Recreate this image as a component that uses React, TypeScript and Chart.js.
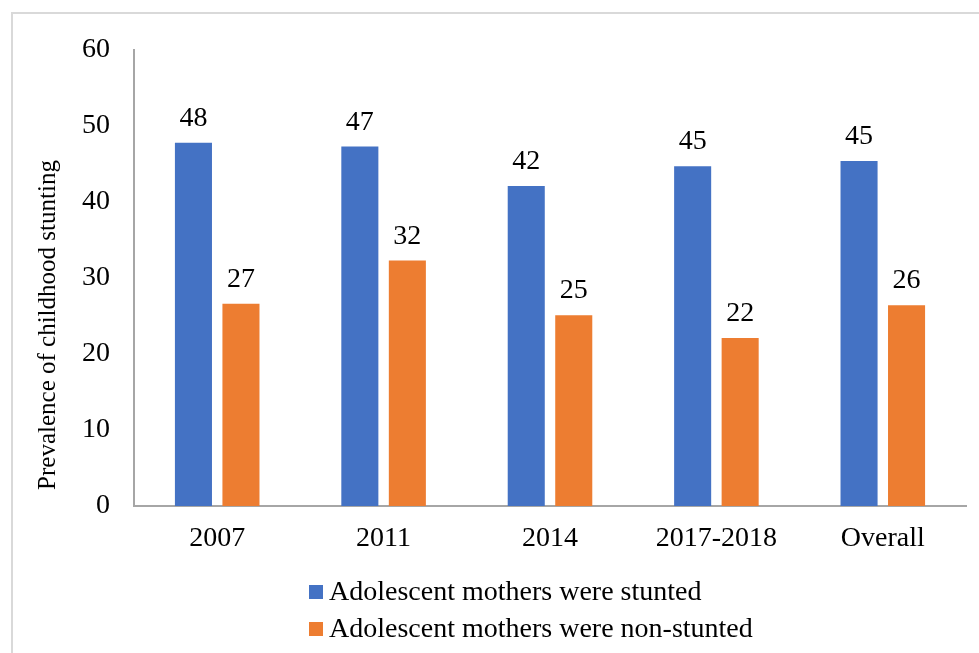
import React, { useEffect, useRef } from "react";
import { Chart, registerables } from "chart.js";

Chart.register(...registerables);

const categories = ["2007", "2011", "2014", "2017-2018", "Overall"];
const stuntedValues = [47.8, 47.3, 42.1, 44.7, 45.4];
const nonStuntedValues = [26.6, 32.3, 25.1, 22.1, 26.4];
const seriesNames = ["Adolescent mothers were stunted", "Adolescent mothers were non-stunted"];
const seriesColors = ["#4472C4", "#ED7D31"];
const yTitle = "Prevalence of childhood stunting";
const yMin = 0;
const yMax = 60;
const yStep = 10;

const FONT = "'Liberation Serif', 'Times New Roman', serif";

const dataLabelPlugin = {
  id: "dataLabels",
  afterDatasetsDraw(chart: any) {
    const ctx = chart.ctx;
    ctx.save();
    ctx.font = `28px ${FONT}`;
    ctx.fillStyle = "#000";
    ctx.textAlign = "center";
    ctx.textBaseline = "alphabetic";
    chart.data.datasets.forEach((ds: any, i: number) => {
      const meta = chart.getDatasetMeta(i);
      meta.data.forEach((bar: any, j: number) => {
        const v = ds.data[j];
        ctx.fillText(String(Math.round(v)), bar.x, bar.y - 17);
      });
    });
    ctx.restore();
  },
};

export default function App() {
  const ref = useRef<HTMLCanvasElement>(null);
  useEffect(() => {
    if (!ref.current) return;
    const chart = new Chart(ref.current, {
      type: "bar",
      data: {
        labels: categories,
        datasets: [
          { label: seriesNames[0], data: stuntedValues, backgroundColor: seriesColors[0] },
          { label: seriesNames[1], data: nonStuntedValues, backgroundColor: seriesColors[1] },
        ],
      },
      options: {
        responsive: false,
        animation: false,
        devicePixelRatio: 1,
        layout: { padding: { left: 0, top: 50, right: 13, bottom: 0 } },
        datasets: {
          bar: { categoryPercentage: 0.571, barPercentage: 0.78 },
        } as any,
        plugins: {
          legend: { display: false },
          tooltip: { enabled: false },
        },
        scales: {
          x: {
            grid: { display: false, drawTicks: false },
            border: { display: true, color: "#a6a6a6", width: 2 },
            ticks: { color: "#000", font: { family: FONT, size: 28 }, padding: 16, maxRotation: 0 },
            afterFit: (s: any) => { s.height = 147; },
          },
          y: {
            min: yMin,
            max: yMax,
            grid: { display: false, drawTicks: false },
            border: { display: true, color: "#a6a6a6", width: 2 },
            ticks: { stepSize: yStep, color: "#000", font: { family: FONT, size: 28 }, padding: 24 },
            afterFit: (s: any) => { s.width = 134; },
          },
        },
      },
      plugins: [dataLabelPlugin],
    });
    return () => chart.destroy();
  }, []);

  return (
    <div style={{ position: "absolute", left: 0, top: 0, width: 979, height: 653, overflow: "hidden", background: "#fff" }}>
      <div style={{ position: "absolute", left: 11, top: 12, width: 1100, height: 1000, borderLeft: "2px solid #d9d9d9", borderTop: "2px solid #d9d9d9" }} />
      <canvas ref={ref} width={979} height={653} style={{ position: "absolute", left: 0, top: 0, width: 979, height: 653 }} />
      <div
        style={{
          position: "absolute",
          left: 47 - 200,
          top: 325 - 14,
          width: 400,
          height: 28,
          lineHeight: "28px",
          textAlign: "center",
          fontFamily: FONT,
          fontSize: 25,
          color: "#000",
          transform: "rotate(-90deg)",
          transformOrigin: "50% 50%",
          whiteSpace: "nowrap",
        }}
      >
        {yTitle}
      </div>
      {seriesNames.map((name, i) => (
        <div key={name} style={{ position: "absolute", left: 309, top: 577 + i * 37, height: 28, whiteSpace: "nowrap" }}>
          <span style={{ position: "absolute", left: 0, top: 8, width: 14, height: 14, background: seriesColors[i] }} />
          <span style={{ position: "absolute", left: 20, top: 0, lineHeight: "28px", fontFamily: FONT, fontSize: 28, color: "#000" }}>{name}</span>
        </div>
      ))}
    </div>
  );
}
